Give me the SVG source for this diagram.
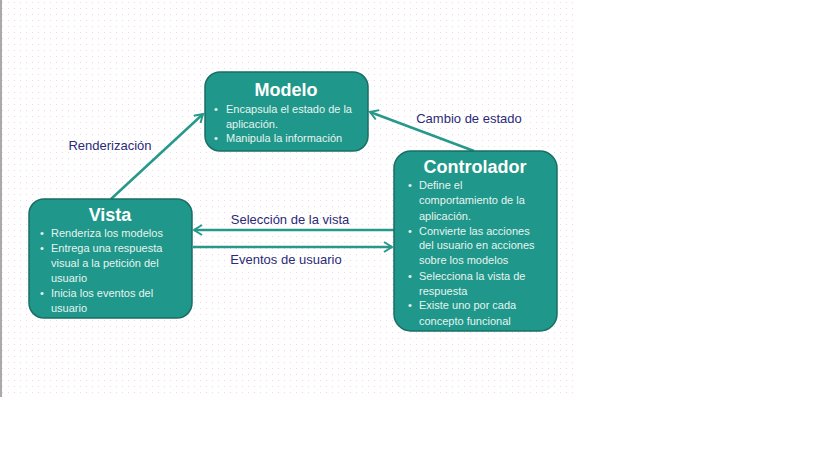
<svg xmlns="http://www.w3.org/2000/svg" width="819" height="460" viewBox="0 0 819 460">
<defs>
<pattern id="dots" width="6" height="6" patternUnits="userSpaceOnUse">
<rect x="2" y="2" width="1" height="1" fill="#f4d2ea"/>
</pattern>
<marker id="arr" viewBox="0 0 12 12" refX="10" refY="6" markerWidth="12" markerHeight="12" markerUnits="userSpaceOnUse" orient="auto">
<path d="M2,1 L10,6 L2,11" fill="none" stroke="#26998a" stroke-width="2"/>
</marker>
</defs>
<style>
.box{fill:#1f978a;stroke:#1a6e64;stroke-width:1.5}
.title{font-family:"Liberation Sans",Arial,sans-serif;font-weight:bold;font-size:18px;fill:#ffffff;text-anchor:middle}
.txt{font-family:"Liberation Sans",Arial,sans-serif;font-size:11px;fill:#e6f4f1}
.lbl{font-family:"Liberation Sans",Arial,sans-serif;font-size:13px;fill:#2b2a78;text-anchor:middle}
.con{stroke:#26998a;stroke-width:2.5;fill:none;marker-end:url(#arr)}
</style>
<rect x="0" y="0" width="819" height="460" fill="#ffffff"/>
<rect x="0" y="0" width="576" height="397" fill="url(#dots)"/>
<line x1="1" y1="0" x2="1" y2="397" stroke="#555555" stroke-width="1"/>
<g id="connectors">
<line class="con" x1="111" y1="199" x2="203" y2="114"/>
<line class="con" x1="474" y1="151" x2="370" y2="112"/>
<line class="con" x1="394" y1="230" x2="194" y2="230"/>
<line class="con" x1="193" y1="247" x2="392" y2="247"/>
<text class="lbl" x="110" y="150">Renderización</text>
<text class="lbl" x="469" y="123">Cambio de estado</text>
<text class="lbl" x="290" y="224">Selección de la vista</text>
<text class="lbl" x="286" y="264">Eventos de usuario</text>
</g>
<g id="modelo">
<rect class="box" x="205" y="72" width="163" height="79" rx="15"/>
<text class="title" x="286" y="96">Modelo</text>
<text class="txt" x="214" y="113">•</text>
<text class="txt" x="226" y="113">Encapsula el estado de la</text>
<text class="txt" x="226" y="128">aplicación.</text>
<text class="txt" x="214" y="142">•</text>
<text class="txt" x="226" y="142">Manipula la información</text>
</g>
<g id="vista">
<rect class="box" x="29" y="199" width="163" height="119" rx="15"/>
<text class="title" x="110" y="221">Vista</text>
<text class="txt" x="40" y="237">•</text>
<text class="txt" x="51" y="237">Renderiza los modelos</text>
<text class="txt" x="40" y="252">•</text>
<text class="txt" x="51" y="252">Entrega una respuesta</text>
<text class="txt" x="51" y="267">visual a la petición del</text>
<text class="txt" x="51" y="282">usuario</text>
<text class="txt" x="40" y="297">•</text>
<text class="txt" x="51" y="297">Inicia los eventos del</text>
<text class="txt" x="51" y="312">usuario</text>
</g>
<g id="controlador">
<rect class="box" x="394" y="151" width="163" height="180" rx="17"/>
<text class="title" x="475" y="173">Controlador</text>
<text class="txt" x="408" y="189">•</text>
<text class="txt" x="419" y="189">Define el</text>
<text class="txt" x="419" y="204">comportamiento de la</text>
<text class="txt" x="419" y="220">aplicación.</text>
<text class="txt" x="408" y="235">•</text>
<text class="txt" x="419" y="235">Convierte las acciones</text>
<text class="txt" x="419" y="249">del usuario en acciones</text>
<text class="txt" x="419" y="264">sobre los modelos</text>
<text class="txt" x="408" y="280">•</text>
<text class="txt" x="419" y="280">Selecciona la vista de</text>
<text class="txt" x="419" y="295">respuesta</text>
<text class="txt" x="408" y="309">•</text>
<text class="txt" x="419" y="309">Existe uno por cada</text>
<text class="txt" x="419" y="325">concepto funcional</text>
</g>
</svg>
